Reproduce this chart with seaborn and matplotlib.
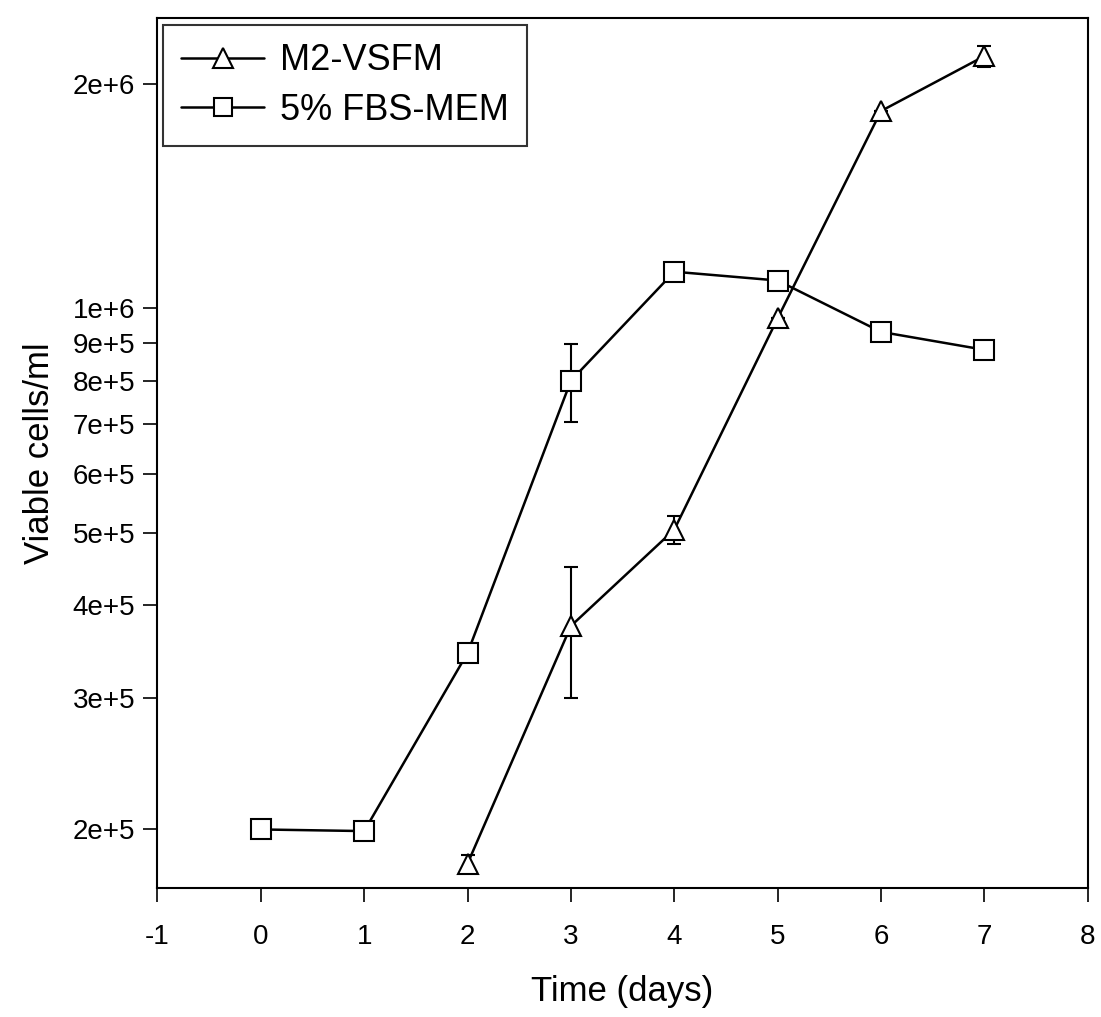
import numpy as np
import pandas as pd
import matplotlib
matplotlib.use("Agg")
import matplotlib.pyplot as plt
import seaborn as sns
from matplotlib.ticker import FixedLocator, NullLocator, FixedFormatter
from matplotlib.lines import Line2D

# ---- data ----
m2_days = [2, 3, 4, 5, 6, 7]
m2_mean = [1.80e5, 3.75e5, 5.05e5, 9.7e5, 1.84e6, 2.18e6]
m2_err = [0.05e5, 0.75e5, 0.22e5, 0.0, 0.0, 0.07e6]
fbs_days = [0, 1, 2, 3, 4, 5, 6, 7]
fbs_mean = [2.0e5, 1.99e5, 3.45e5, 8.0e5, 1.12e6, 1.09e6, 9.3e5, 8.8e5]
fbs_err = [0.0, 0.0, 0.0, 0.95e5, 0.03e6, 0.0, 0.0, 0.0]
series_names = ["M2-VSFM", "5% FBS-MEM"]
ytick_vals = [2e5, 3e5, 4e5, 5e5, 6e5, 7e5, 8e5, 9e5, 1e6, 2e6]
ytick_labels = ["2e+5", "3e+5", "4e+5", "5e+5", "6e+5", "7e+5", "8e+5", "9e+5", "1e+6", "2e+6"]
xtick_vals = [-1, 0, 1, 2, 3, 4, 5, 6, 7, 8]

df = pd.concat([
    pd.DataFrame({"day": m2_days, "cells": m2_mean, "series": series_names[0]}),
    pd.DataFrame({"day": fbs_days, "cells": fbs_mean, "series": series_names[1]}),
], ignore_index=True)

sns.set_theme(style="white")
plt.rcParams["font.family"] = ["Liberation Sans", "DejaVu Sans"]

fig = plt.figure(figsize=(11.01, 10.17), dpi=100)
ax = fig.add_axes([0.143, 0.127, 0.845, 0.855])

# error bars
ax.errorbar(m2_days, m2_mean, yerr=m2_err, fmt="none", ecolor="black",
            elinewidth=1.5, capsize=5, capthick=1.5, zorder=2)
ax.errorbar(fbs_days, fbs_mean, yerr=fbs_err, fmt="none", ecolor="black",
            elinewidth=1.5, capsize=5, capthick=1.5, zorder=2)

sns.lineplot(data=df, x="day", y="cells", hue="series", style="series",
             palette={series_names[0]: "black", series_names[1]: "black"},
             markers={series_names[0]: "^", series_names[1]: "s"},
             dashes=False, linewidth=1.8, markersize=14,
             markerfacecolor="white", markeredgecolor="black",
             markeredgewidth=1.5, ax=ax, zorder=3, legend=False)

ax.set_yscale("log")
ax.set_ylim(1.67e5, 2.45e6)
ax.set_xlim(-1, 8)
ax.yaxis.set_major_locator(FixedLocator(ytick_vals))
ax.yaxis.set_major_formatter(FixedFormatter(ytick_labels))
ax.yaxis.set_minor_locator(NullLocator())
ax.set_xticks(xtick_vals)
ax.set_xticklabels([str(v) for v in xtick_vals])

for s in ax.spines.values():
    s.set_color("black")
    s.set_linewidth(1.5)
ax.tick_params(axis="both", which="major", direction="out", length=10,
               width=1.2, color="black", labelsize=20, labelcolor="black",
               bottom=True, left=True, top=False, right=False, pad=6)
ax.tick_params(axis="x", pad=16)
ax.set_xlabel("Time (days)", fontsize=25, color="black", labelpad=18)
ax.set_ylabel("Viable cells/ml", fontsize=25, color="black", labelpad=12)

handles = [
    Line2D([], [], color="black", lw=1.8, marker="^", markersize=14,
           markerfacecolor="white", markeredgecolor="black", markeredgewidth=1.5),
    Line2D([], [], color="black", lw=1.8, marker="s", markersize=13,
           markerfacecolor="white", markeredgecolor="black", markeredgewidth=1.5),
]
leg = ax.legend(handles, series_names, loc="upper left", fontsize=26,
                frameon=True, fancybox=False, edgecolor="black",
                handlelength=2.3, handletextpad=0.45, borderpad=0.5,
                labelspacing=0.4, bbox_to_anchor=(0.006, 0.992),
                borderaxespad=0.0)
leg.get_frame().set_linewidth(1.5)
for t in leg.get_texts():
    t.set_color("black")

fig.savefig("out.png", dpi=100, facecolor="white")
